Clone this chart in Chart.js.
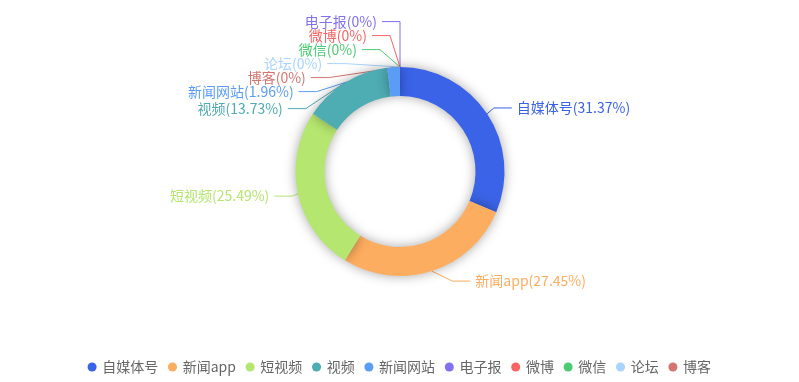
<!DOCTYPE html>
<html>
<head>
<meta charset="utf-8">
<script src="https://cdn.jsdelivr.net/npm/chart.js@4.4.0/dist/chart.umd.min.js"></script>
<style>
html,body{margin:0;padding:0;background:#fff;}
#c{display:block;}
</style>
</head>
<body>
<canvas id="c" width="799" height="382" style="width:799px;height:382px"></canvas>
<script>
// ---- data ----
const categories = ['自媒体号', '新闻app', '短视频', '视频', '新闻网站', '电子报', '微博', '微信', '论坛', '博客'];
const counts = [16, 14, 13, 7, 1, 0, 0, 0, 0, 0];
const palette = ['#3a63e7', '#fdad5f', '#b5e66f', '#4eacb3', '#5b9df6', '#8170f0', '#f96464', '#4dcb74', '#a8d4fd', '#d47571'];

const FONT = "'Noto Sans CJK SC', 'Microsoft YaHei', sans-serif";
const LEN = 10.5, LEN2 = 18, DIST = 5, LABEL_H = 14;

function pctText(v, total) {
  return parseFloat((v / total * 100).toFixed(2)) + '%';
}

function adjustSingleSide(list, cx, cy, r, dir, viewHeight, viewTop) {
  list.sort((a, b) => a.y - b.y);
  function shiftUp(end, delta) {
    for (let j = end; j >= 0; j--) {
      if (list[j].y - delta < viewTop) break;
      list[j].y -= delta;
      if (j > 0 && list[j].y > list[j - 1].y + list[j - 1].height) break;
    }
  }
  function shiftDown(start, end, delta) {
    for (let j = start; j < end; j++) {
      if (list[j].y + delta > viewTop + viewHeight) break;
      list[j].y += delta;
      if (j > start && j + 1 < end && list[j + 1].y > list[j].y + list[j].height) {
        shiftUp(j, delta / 2);
        return;
      }
    }
    shiftUp(end - 1, delta / 2);
  }
  function changeX(items, isDown) {
    let last = isDown ? Number.MAX_VALUE : 0;
    for (const it of items) {
      const deltaY = Math.abs(it.y - cy);
      let deltaX = deltaY < r + it.len
        ? Math.sqrt(Math.pow(r + it.len + it.len2, 2) - deltaY * deltaY)
        : Math.abs(it.x - cx);
      if (isDown && deltaX >= last) deltaX = last - 10;
      if (!isDown && deltaX <= last) deltaX = last + 10;
      it.x = cx + deltaX * dir;
      last = deltaX;
    }
  }
  let lastY = 0;
  for (let i = 0; i < list.length; i++) {
    const delta = list[i].y - lastY;
    if (delta < 0) shiftDown(i, list.length, -delta);
    lastY = list[i].y + list[i].height;
  }
  if (viewHeight - lastY < 0) shiftUp(list.length - 1, lastY - viewHeight);
  const up = [], down = [];
  list.forEach(l => (l.y >= cy ? down : up).push(l));
  changeX(up, false);
  changeX(down, true);
}

function computeLabels(chart) {
  const meta = chart.getDatasetMeta(0);
  const ds = chart.data.datasets[0];
  const total = ds.data.reduce((a, b) => a + b, 0);
  const list = [];
  let cxx = 0, cyy = 0, rr = 0;
  meta.data.forEach((arc, i) => {
    const p = arc.getProps(['x', 'y', 'startAngle', 'endAngle', 'outerRadius'], true);
    const cx = p.x, cy = p.y, r = p.outerRadius;
    cxx = cx; cyy = cy; rr = r;
    const mid = (p.startAngle + p.endAngle) / 2;
    const dx = Math.cos(mid), dy = Math.sin(mid);
    const x1 = cx + r * dx, y1 = cy + r * dy;
    const x2 = cx + (r + LEN) * dx, y2 = cy + (r + LEN) * dy;
    const dir = dx < 0 ? -1 : 1;
    const x3 = x2 + dir * LEN2;
    list.push({
      i, dir, x: x3 + dir * DIST, y: y2, height: LABEL_H, len: LEN, len2: LEN2,
      linePoints: [[x1, y1], [x2, y2], [x3, y2]],
      text: chart.data.labels[i] + '(' + pctText(ds.data[i], total) + ')',
      color: ds.backgroundColor[i]
    });
  });
  const left = list.filter(l => l.dir < 0);
  const right = list.filter(l => l.dir > 0);
  adjustSingleSide(left, cxx, cyy, rr, -1, chart.height, 0);
  adjustSingleSide(right, cxx, cyy, rr, 1, chart.height, 0);
  list.forEach(l => {
    const lp = l.linePoints;
    const dist = lp[1][0] - lp[2][0];
    lp[2][0] = l.x < cxx ? l.x + DIST : l.x - DIST;
    lp[1][0] = lp[2][0] + dist;
    lp[1][1] = lp[2][1] = l.y;
  });
  return list;
}

const outerLabels = {
  id: 'outerLabels',
  afterLayout(chart) {
    // centre the ring a little higher, as in the reference
    chart.chartArea.top -= 6;
    chart.chartArea.height += 6;
  },
  beforeDatasetsDraw(chart) {
    const ctx = chart.ctx;
    const list = computeLabels(chart);
    chart.$labelList = list;
    ctx.save();
    ctx.lineWidth = 1;
    list.forEach(l => {
      ctx.strokeStyle = l.color;
      ctx.beginPath();
      ctx.moveTo(l.linePoints[0][0], l.linePoints[0][1]);
      ctx.lineTo(l.linePoints[1][0], l.linePoints[1][1]);
      ctx.lineTo(l.linePoints[2][0], l.linePoints[2][1]);
      ctx.stroke();
    });
    ctx.restore();
    // soft shadow under the sectors
    ctx.save();
    ctx.shadowColor = 'rgba(0,0,0,0.35)';
    ctx.shadowBlur = 12;
    ctx.shadowOffsetX = 0;
    ctx.shadowOffsetY = 0;
  },
  afterDatasetsDraw(chart) {
    const ctx = chart.ctx;
    ctx.restore();
    ctx.save();
    ctx.font = '14px ' + FONT;
    ctx.textBaseline = 'middle';
    const cx = chart.getDatasetMeta(0).data[0].x;
    (chart.$labelList || []).forEach(l => {
      ctx.fillStyle = l.color;
      ctx.textAlign = l.x < cx ? 'right' : 'left';
      ctx.fillText(l.text, l.x, l.y);
    });
    ctx.restore();
  }
};

new Chart(document.getElementById('c'), {
  type: 'doughnut',
  data: {
    labels: categories,
    datasets: [{
      data: counts,
      backgroundColor: palette,
      borderWidth: 0,
      hoverOffset: 0
    }]
  },
  options: {
    responsive: false,
    devicePixelRatio: 1,
    animation: false,
    radius: 104.5,
    cutout: '72.25%',
    layout: { padding: { left: 1, right: 0, top: 0, bottom: -2 } },
    events: [],
    plugins: {
      tooltip: { enabled: false },
      legend: {
        position: 'bottom',
        labels: {
          usePointStyle: true,
          pointStyle: 'circle',
          boxWidth: 6.4,
          boxHeight: 6.4,
          padding: 11,
          color: '#666',
          font: { size: 14, family: FONT }
        }
      }
    }
  },
  plugins: [outerLabels]
});
</script>
</body>
</html>
